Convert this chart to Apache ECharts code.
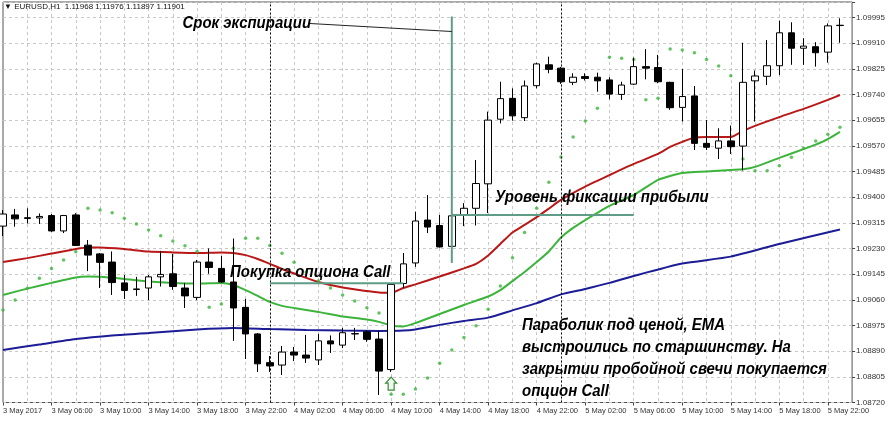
<!DOCTYPE html>
<html>
<head>
<meta charset="utf-8">
<script src="https://cdn.jsdelivr.net/npm/echarts@6/dist/echarts.min.js"></script>
<style>
html, body { margin: 0; padding: 0; background: #fff; }
#chart { width: 888px; height: 422px; }
</style>
</head>
<body>
<div id="chart"></div>
<script>
// EURUSD H1, 3 May 02:00 - 5 May 23:00
var opens = [1.09304,1.09341,1.09329,1.09331,1.09339,1.09288,1.09341,1.09241,1.09212,1.09185,
  1.09116,1.09094,1.09099,1.09136,1.09146,1.09099,1.09068,1.09185,1.09164,1.09119,
  1.09035,1.08947,1.08852,1.08844,1.08887,1.08877,1.08861,1.08924,1.08910,1.08947,
  1.08954,1.08930,1.08829,1.09114,1.09182,1.09324,1.09306,1.09237,1.09341,1.09363,
  1.09444,1.09658,1.09727,1.09663,1.09769,1.09838,1.09827,1.09780,1.09799,1.09797,
  1.09788,1.09740,1.09774,1.09832,1.09829,1.09780,1.09697,1.09735,1.09578,1.09562,
  1.09586,1.09569,1.09785,1.09800,1.09835,1.09944,1.09893,1.09898,1.09880,1.09968];
var closes = [1.09344,1.09328,1.09332,1.09336,1.09288,1.09339,1.09240,1.09208,1.09184,1.09117,
  1.09091,1.09096,1.09136,1.09144,1.09104,1.09073,1.09185,1.09167,1.09119,1.09033,
  1.08947,1.08848,1.08841,1.08887,1.08877,1.08867,1.08924,1.08914,1.08951,1.08948,
  1.08929,1.08824,1.09111,1.09179,1.09321,1.09301,1.09235,1.09338,1.09363,1.09445,
  1.09655,1.09726,1.09669,1.09768,1.09841,1.09823,1.09782,1.09797,1.09793,1.09785,
  1.09741,1.09771,1.09832,1.09827,1.09782,1.09696,1.09733,1.09578,1.09565,1.09586,
  1.09567,1.09780,1.09801,1.09835,1.09944,1.09893,1.09900,1.09878,1.09967,1.09969];
var lows = [1.09271,1.09302,1.09313,1.09311,1.09285,1.09281,1.09238,1.09155,1.09099,1.09076,
  1.09063,1.09073,1.09059,1.09104,1.09093,1.09033,1.09059,1.09146,1.09116,1.08924,
  1.08864,1.08821,1.08821,1.08811,1.08857,1.08851,1.08844,1.08884,1.08900,1.08927,
  1.08921,1.08745,1.08821,1.09099,1.09169,1.09281,1.09233,1.09232,1.09304,1.09306,
  1.09347,1.09644,1.09653,1.09652,1.09760,1.09810,1.09775,1.09771,1.09786,1.09749,
  1.09724,1.09722,1.09771,1.09790,1.09777,1.09689,1.09650,1.09556,1.09556,1.09526,
  1.09543,1.09488,1.09650,1.09771,1.09804,1.09838,1.09838,1.09832,1.09845,1.09911];
var highs = [1.09357,1.09361,1.09363,1.09346,1.09344,1.09341,1.09347,1.09258,1.09215,1.09220,
  1.09142,1.09136,1.09142,1.09222,1.09212,1.09116,1.09192,1.09230,1.09205,1.09263,
  1.09063,1.08950,1.08874,1.08907,1.08904,1.08944,1.08947,1.08942,1.08967,1.08967,
  1.08960,1.08957,1.09112,1.09215,1.09352,1.09407,1.09341,1.09347,1.09380,1.09523,
  1.09683,1.09782,1.09760,1.09786,1.09845,1.09865,1.09831,1.09810,1.09810,1.09812,
  1.09797,1.09782,1.09862,1.09890,1.09871,1.09782,1.09824,1.09768,1.09655,1.09628,
  1.09637,1.09911,1.09819,1.09920,1.09984,1.09979,1.09926,1.09913,1.09975,1.09992];

// Parabolic SAR
var sar = [1.09026,1.09059,1.09098,1.09131,1.09164,1.09192,1.09219,1.09363,1.09357,1.09348,
  1.09330,1.09311,1.09291,1.09272,1.09255,1.09239,1.09220,1.09035,1.09046,1.09231,
  1.09264,1.09264,1.09240,1.09214,1.09184,1.09152,1.09122,1.09099,1.09076,1.09056,
  1.09034,1.09016,1.08747,1.08747,1.08765,1.08801,1.08850,1.08894,1.08935,1.08974,
  1.09029,1.09106,1.09199,1.09283,1.09363,1.09449,1.09533,1.09599,1.09652,1.09694,
  1.09863,1.09860,1.09856,1.09722,1.09727,1.09890,1.09887,1.09878,1.09856,1.09834,
  1.09802,1.09526,1.09487,1.09487,1.09504,1.09532,1.09562,1.09586,1.09608,1.09631];

// EMA, читаем по точкам (номер бара -> значение)
var emaRedBars = [0,2,4,6,7,8,10,12,14,16,18,19,20,21,22,23,24,26,28,30,31,32,33,34,36,38,39,40,41,42,43,44,45,46,48,50,52,54,55,56,57,58,60,61,62,64,66,68,69];
var emaRedVals = [1.09185,1.09198,1.09213,1.09228,1.09233,1.09233,1.09228,1.09220,1.09217,1.09215,1.09217,1.09215,1.09208,1.09195,1.09179,1.09162,1.09147,1.09119,1.09101,1.09089,1.09084,1.09083,1.09099,1.09111,1.09137,1.09164,1.09179,1.09207,1.09245,1.09283,1.09308,1.09334,1.09362,1.09391,1.09435,1.09473,1.09510,1.09543,1.09566,1.09583,1.09597,1.09599,1.09599,1.09619,1.09636,1.09665,1.09692,1.09722,1.09738];
var emaGreenBars = [0,2,4,6,7,8,10,12,14,16,18,19,20,21,22,23,24,26,28,30,31,32,33,34,36,38,40,41,42,43,44,45,46,47,48,50,52,54,55,56,58,60,61,62,64,66,67,68,69];
var emaGreenVals = [1.09076,1.09097,1.09116,1.09134,1.09137,1.09136,1.09129,1.09121,1.09116,1.09114,1.09116,1.09109,1.09092,1.09073,1.09053,1.09040,1.09033,1.09020,1.09005,1.08995,1.08987,1.08975,1.08972,1.08983,1.09013,1.09043,1.09071,1.09092,1.09122,1.09152,1.09185,1.09220,1.09266,1.09298,1.09324,1.09371,1.09407,1.09457,1.09470,1.09480,1.09485,1.09490,1.09492,1.09500,1.09530,1.09559,1.09574,1.09592,1.09616];
var emaBlueBars = [0,3,6,9,12,16,19,22,25,28,31,33,34,36,38,40,42,44,46,48,50,52,56,60,64,69];
var emaBlueVals = [1.08894,1.08912,1.08930,1.08942,1.08950,1.08962,1.08967,1.08963,1.08960,1.08958,1.08957,1.08958,1.08962,1.08977,1.08990,1.09001,1.09025,1.09049,1.09078,1.09096,1.09116,1.09139,1.09180,1.09203,1.09245,1.09293];

var xLabels = ['3 May 2017','3 May 06:00','3 May 10:00','3 May 14:00','3 May 18:00','3 May 22:00',
  '4 May 02:00','4 May 06:00','4 May 10:00','4 May 14:00','4 May 18:00','4 May 22:00',
  '5 May 02:00','5 May 06:00','5 May 10:00','5 May 14:00','5 May 18:00','5 May 22:00'];
var yTicks = ['1.08720','1.08805','1.08890','1.08975','1.09060','1.09145','1.09230','1.09315',
  '1.09400','1.09485','1.09570','1.09655','1.09740','1.09825','1.09910','1.09995'];

var yMin = 1.08720, yMax = 1.10046, tickStep = 0.00085;

// уровни на разметке
var expiryBar = 37.1, expiryTop = 1.09998, expiryBottom = 1.09182;
var takeProfit = 1.09341, takeProfitFrom = 36.8, takeProfitTo = 52;
var buyPrice = 1.09115, buyFrom = 21.5, buyTo = 32.5;
var arrowBar = 32, arrowTip = 1.08804;

var cats = [];
var days = ['3 May', '4 May', '5 May'];
for (var i = 0; i < opens.length; i++) {
  var h = i + 2;
  var hh = h % 24;
  cats.push(days[Math.floor(h / 24)] + ' ' + (hh < 10 ? '0' : '') + hh + ':00');
}
cats.push('');

var candles = opens.map(function (o, i) { return [o, closes[i], lows[i], highs[i]]; });
function pairs(bars, vals) { return bars.map(function (b, i) { return [b, vals[i]]; }); }

var myChart = echarts.init(document.getElementById('chart'));
var axisFont = 'Liberation Sans';

var option = {
  animation: false,
  backgroundColor: '#fff',
  grid: {
    left: 1.4, top: 2, width: 851.2, height: 400.5,
    show: true, borderColor: '#555', borderWidth: 1, backgroundColor: '#fff'
  },
  xAxis: {
    type: 'category',
    data: cats,
    boundaryGap: false,
    axisLine: { show: false },
    axisTick: {
      show: true, length: 3,
      interval: function (i) { return i % 4 === 0 && i <= 68; },
      lineStyle: { color: '#444' }
    },
    axisLabel: {
      interval: function (i) { return i % 4 === 0 && i <= 68; },
      formatter: function (v, i) { return xLabels[i / 4] || ''; },
      align: 'left', margin: 4,
      fontSize: 7.5, fontFamily: axisFont, color: '#333'
    },
    splitLine: {
      show: true,
      interval: function (i) { return i % 2 === 0 && i > 0 && i < 70; },
      lineStyle: { color: '#c8c8c8', type: [3, 3], width: 1 }
    }
  },
  yAxis: [
    { type: 'value', min: yMin, max: yMax, show: false, scale: true },
    {
      type: 'value', position: 'right',
      min: 0, max: (yMax - yMin) / tickStep, interval: 1,
      axisLine: { show: false },
      axisTick: { show: true, length: 3, lineStyle: { color: '#444' } },
      axisLabel: {
        formatter: function (v) { return yTicks[Math.round(v)] || ''; },
        margin: 4, fontSize: 8, fontFamily: axisFont, color: '#333'
      },
      splitLine: { show: true, lineStyle: { color: '#c8c8c8', type: [3, 3], width: 1 } }
    }
  ],
  series: [
    {
      name: 'EMA slow', type: 'line', yAxisIndex: 0, z: 2,
      data: pairs(emaBlueBars, emaBlueVals), smooth: 0.2,
      symbol: 'none', lineStyle: { color: '#1c1c96', width: 2 }
    },
    {
      name: 'EMA mid', type: 'line', yAxisIndex: 0, z: 2,
      data: pairs(emaGreenBars, emaGreenVals), smooth: 0.2,
      symbol: 'none', lineStyle: { color: '#3cb43c', width: 2 }
    },
    {
      name: 'EMA fast', type: 'line', yAxisIndex: 0, z: 2,
      data: pairs(emaRedBars, emaRedVals), smooth: 0.2,
      symbol: 'none', lineStyle: { color: '#b81818', width: 2 }
    },
    {
      name: 'SAR', type: 'scatter', yAxisIndex: 0, z: 3,
      data: sar.map(function (v, i) { return [i, v]; }),
      symbolSize: 3.5, itemStyle: { color: '#3cb43c' }
    },
    {
      name: 'EURUSD,H1', type: 'candlestick', yAxisIndex: 0, z: 4,
      data: candles, barWidth: 7,
      itemStyle: {
        color: '#ffffff', color0: '#000000',
        borderColor: '#000000', borderColor0: '#000000', borderWidth: 1
      },
      markLine: {
        silent: true, symbol: 'none', label: { show: false },
        lineStyle: { color: '#111', type: [2, 2], width: 1 },
        data: [{ xAxis: '4 May 00:00' }, { xAxis: '5 May 00:00' }]
      }
    }
  ]
};

myChart.setOption(option);

// разметка поверх графика
function px(x, y) { return myChart.convertToPixel({ xAxisIndex: 0, yAxisIndex: 0 }, [x, y]); }
var noteFont = 'italic bold 17px "Liberation Sans", Arial, sans-serif';
var noteScale = 0.88;   // шрифт на скрине уже обычного Arial
var teal = '#5e9c86';
var eTop = px(expiryBar, expiryTop), eBot = px(expiryBar, expiryBottom);
var tpA = px(takeProfitFrom, takeProfit), tpB = px(takeProfitTo, takeProfit);
var bA = px(buyFrom, buyPrice), bB = px(buyTo, buyPrice);
var ar = px(arrowBar, arrowTip);
var ax = ar[0], ay = ar[1];

function note(x, y, text, valign) {
  return { type: 'text', z: 100, x: x, y: y, scaleX: noteScale,
    style: { text: text, font: noteFont, lineHeight: 22, fill: '#000', verticalAlign: valign || 'middle' } };
}

myChart.setOption({
  graphic: [
    { type: 'text', z: 100, x: 4, y: 7,
      style: { text: '▼ EURUSD,H1  1.11968 1.11976 1.11897 1.11901',
        font: '8px "Liberation Sans", "DejaVu Sans", sans-serif', fill: '#111', verticalAlign: 'middle' } },
    { type: 'line', z: 90, shape: { x1: eTop[0], y1: eTop[1], x2: eBot[0], y2: eBot[1] },
      style: { stroke: teal, lineWidth: 2 } },
    { type: 'line', z: 90, shape: { x1: 310, y1: 23.5, x2: eTop[0], y2: 31.5 },
      style: { stroke: '#222', lineWidth: 1 } },
    { type: 'line', z: 90, shape: { x1: tpA[0], y1: tpA[1], x2: tpB[0], y2: tpB[1] },
      style: { stroke: teal, lineWidth: 2 } },
    { type: 'line', z: 90, shape: { x1: bA[0], y1: bA[1], x2: bB[0], y2: bB[1] },
      style: { stroke: teal, lineWidth: 2 } },
    { type: 'polygon', z: 95,
      shape: { points: [[ax, ay], [ax + 5.5, ay + 6], [ax + 3, ay + 6], [ax + 3, ay + 13],
        [ax - 3, ay + 13], [ax - 3, ay + 6], [ax - 5.5, ay + 6]] },
      style: { fill: '#eef8ee', stroke: '#3a8a3a', lineWidth: 1.2 } },
    note(182.5, 23, 'Срок экспирации'),
    note(495, 197, 'Уровень фиксации прибыли'),
    note(230, 272, 'Покупка опциона Call'),
    note(522, 314.5, 'Параболик под ценой, EMA\nвыстроились по старшинству. На\nзакрытии пробойной свечи покупается\nопцион Call', 'top')
  ]
});
</script>
</body>
</html>
